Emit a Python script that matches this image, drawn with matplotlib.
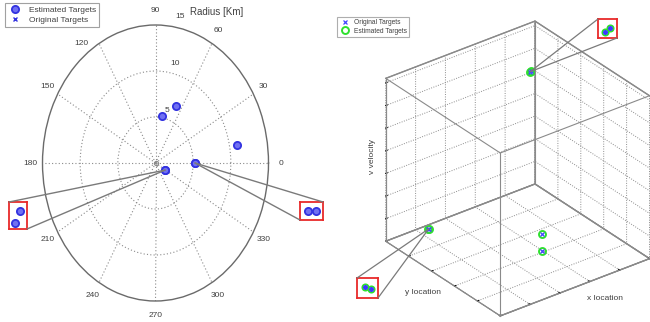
import numpy as np
import matplotlib
matplotlib.use("Agg")
import matplotlib.pyplot as plt
from matplotlib.patches import ConnectionPatch
from mpl_toolkits.mplot3d import proj3d

plt.rcParams['font.family'] = ['Liberation Sans', 'DejaVu Sans']
plt.rcParams['grid.color'] = '#8c8c8c'
plt.rcParams['grid.linestyle'] = (0, (1, 1.5))
plt.rcParams['grid.linewidth'] = 0.7

# ---------------- polar view: range [km] / bearing [deg] ----------------
est_range = [6.8, 5.2, 11.0, 5.22, 5.26, 1.487, 1.497]
est_bearing = [66.0, 80.0, 10.0, 0.0, 0.0, 330.2, 327.7]
orig_range = [6.8, 5.2, 11.0, 5.22, 5.26, 1.487, 1.497]
orig_bearing = [66.0, 80.0, 10.0, 0.0, 0.0, 330.2, 327.7]
radar_range = [0.0]
radar_bearing = [0.0]
angle_ticks = list(range(0, 360, 30))
range_rings = [5, 10, 15]

# ---------------- 3D view: x / y location, v velocity ----------------
est_x = [7.55, 7.60, 1.02, 1.06, 4.36, 4.36]
est_y = [7.25, 7.25, 7.60, 7.60, 2.08, 2.08]
est_v = [6.47, 6.50, 1.09, 1.07, 1.84, 1.08]
orig_x = [7.55, 7.60, 1.02, 1.06, 4.36, 4.36]
orig_y = [7.25, 7.25, 7.60, 7.60, 2.08, 2.08]
orig_v = [6.47, 6.50, 1.09, 1.07, 1.84, 1.08]
x_ticks = [0, 2, 4, 6, 8, 10]
y_ticks = [0, 2, 4, 6, 8, 10]
v_ticks = [0, 1, 2, 3, 4, 5, 6, 7]

W, H = 650, 322
fig = plt.figure(figsize=(W / 100, H / 100), dpi=100)
fig.patch.set_facecolor('white')

BLUE = '#3232e0'
BLUE_FILL = '#7070f2'
GREEN = '#2ee02e'
RED = '#e82a2a'
GRAY = '#7a7a7a'
TXT = '#404040'


def px_box(x0, y0, x1, y1):
    """Rectangle given in pixels (origin top-left) -> figure fraction."""
    return [x0 / W, 1 - y1 / H, (x1 - x0) / W, (y1 - y0) / H]


def style_inset(ax):
    ax.set_xticks([])
    ax.set_yticks([])
    for s in ax.spines.values():
        s.set_color(RED)
        s.set_linewidth(1.3)
    ax.patch.set_facecolor('white')


# ======================= polar plot =======================
axp = fig.add_axes(px_box(42.5, 25, 268.5, 301), projection='polar')
axp.set_aspect('auto')
axp.set_ylim(0, range_rings[-1])
axp.set_xticks(np.deg2rad(angle_ticks))
axp.set_xticklabels([])
axp.set_yticks(range_rings[:-1])
axp.set_yticklabels([])
axp.tick_params(length=0)
axp.grid(True, color='#8a8a8a', linestyle=(0, (1, 2)), linewidth=0.8)
axp.spines['polar'].set_color('#6a6a6a')
axp.spines['polar'].set_linewidth(1.0)

for a in angle_ticks:
    th, rr = (127, 16.3) if a == 120 else (a, 16.6)
    axp.text(np.deg2rad(th), rr, str(a), ha='center', va='center',
             fontsize=6, color=TXT, clip_on=False)
for ring, th, rr in zip(range_rings, [75.1, 76.6, 78.5], [5.96, 11.17, 16.3]):
    axp.text(np.deg2rad(th), rr, str(ring), ha='center', va='center',
             fontsize=6, color=TXT, clip_on=False)

axp.plot(np.deg2rad(radar_bearing), radar_range, 'o', ms=3, mfc='none',
         mec='#8a8a8a', mew=0.8, zorder=3)
h_orig_p, = axp.plot(np.deg2rad(orig_bearing), orig_range, 'x', color=BLUE,
                     ms=3.5, mew=1.0, ls='none', zorder=3)
h_est_p, = axp.plot(np.deg2rad(est_bearing), est_range, 'o', ms=5.2,
                    mfc=BLUE_FILL, mec=BLUE, mew=1.3, ls='none', zorder=4)

fig.text(217 / W, 1 - 12 / H, 'Radius [Km]', ha='center', va='center',
         fontsize=7, color=TXT)

leg1 = fig.legend([h_est_p, h_orig_p], ['Estimated Targets', 'Original Targets'],
                  loc='upper left', bbox_to_anchor=(5 / W, 1 - 3 / H),
                  fontsize=6, frameon=True, fancybox=False, edgecolor='#8a8a8a',
                  borderpad=0.35, handlelength=1.6, handletextpad=0.9,
                  labelspacing=0.25, borderaxespad=0)
leg1.get_frame().set_linewidth(0.8)
for t in leg1.get_texts():
    t.set_color(TXT)

# close-up views of the merged target pairs
polar_insets = [
    ([5, 6], px_box(9, 202, 27, 229), (1.235, 1.325), (-0.83, -0.695), ((0, 1), (1, 0))),
    ([3, 4], px_box(300, 202, 323, 220), (5.18, 5.295), (-0.045, 0.045), ((1, 1), (0, 0))),
]
for idx, rect, xlim, ylim, corners in polar_insets:
    ins = fig.add_axes(rect)
    r = np.array(est_range)[idx]
    b = np.deg2rad(np.array(est_bearing)[idx])
    ro = np.array(orig_range)[idx]
    bo = np.deg2rad(np.array(orig_bearing)[idx])
    ins.plot(ro * np.cos(bo), ro * np.sin(bo), 'x', color=BLUE, ms=3.5, mew=1.0, ls='none')
    ins.plot(r * np.cos(b), r * np.sin(b), 'o', ms=5.2, mfc=BLUE_FILL, mec=BLUE,
             mew=1.3, ls='none')
    ins.set_xlim(*xlim)
    ins.set_ylim(*ylim)
    style_inset(ins)
    anchor = (np.mean(b), np.mean(r))
    for c in corners:
        con = ConnectionPatch(xyA=anchor, coordsA=axp.transData, xyB=c,
                              coordsB=ins.transAxes, color=GRAY, lw=1.0)
        fig.add_artist(con)

# ======================= 3D scatter =======================
ax3 = fig.add_axes(px_box(330, 0, 650, 322), projection='3d', proj_type='ortho')
ax3.patch.set_alpha(0)
ax3.view_init(elev=30, azim=-127.5)
ax3.set_box_aspect((1, 1, 1))

x_lim = (x_ticks[0], x_ticks[-1])
y_lim = (y_ticks[0], y_ticks[-1])
v_lim = (v_ticks[0], v_ticks[-1] + 0.2)

h_est3, = ax3.plot(est_x, est_y, est_v, 'o', ms=5, mfc='none', mec=GREEN,
                   mew=1.4, ls='none')
h_orig3, = ax3.plot(orig_x, orig_y, orig_v, 'x', color='#4444ff', ms=2.8,
                    mew=0.9, ls='none')

# full box outline
for xa, xb, ya, yb, za, zb in [
        (0, 1, 0, 0, 0, 0), (0, 1, 1, 1, 0, 0), (0, 1, 0, 0, 1, 1), (0, 1, 1, 1, 1, 1),
        (0, 0, 0, 1, 0, 0), (1, 1, 0, 1, 0, 0), (0, 0, 0, 1, 1, 1), (1, 1, 0, 1, 1, 1),
        (0, 0, 0, 0, 0, 1), (1, 1, 0, 0, 0, 1), (0, 0, 1, 1, 0, 1), (1, 1, 1, 1, 0, 1)]:
    ax3.plot([x_lim[xa], x_lim[xb]], [y_lim[ya], y_lim[yb]], [v_lim[za], v_lim[zb]],
             color='#8a8a8a', lw=0.8)

ax3.set_xlim(*x_lim)
ax3.set_ylim(*y_lim)
ax3.set_zlim(*v_lim)
ax3.set_xticks(x_ticks)
ax3.set_yticks(y_ticks)
ax3.set_zticks(v_ticks)
ax3.xaxis.set_ticklabels([])
ax3.yaxis.set_ticklabels([])
ax3.zaxis.set_ticklabels([])
ax3.grid(True)
for axis in (ax3.xaxis, ax3.yaxis, ax3.zaxis):
    axis.set_pane_color((1, 1, 1, 1))
    axis.pane.set_edgecolor('#8a8a8a')
    axis.line.set_color('#8a8a8a')
    axis.line.set_linewidth(0.8)
    axis._axinfo['tick']['color'] = '#8a8a8a'
    axis._axinfo['tick']['inward_factor'] = 0.0
    axis._axinfo['tick']['outward_factor'] = 0.12
    axis._axinfo['grid']['color'] = '#8c8c8c'
    axis._axinfo['grid']['linestyle'] = (0, (1, 1.5))
    axis._axinfo['grid']['linewidth'] = 0.7

# place the square 3D axes so that the box lands where wanted
box_corner_px = {(0, 1, 1): (385, 78), (1, 1, 1): (536, 20), (1, 0, 1): (648, 97),
                 (0, 0, 1): (501, 154), (0, 1, 0): (385, 240), (1, 1, 0): (537, 183),
                 (1, 0, 0): (648, 259), (0, 0, 0): (501, 317)}


def to_px(ax, x, y, z):
    xs, ys, _ = proj3d.proj_transform(np.atleast_1d(x), np.atleast_1d(y),
                                      np.atleast_1d(z), ax.get_proj())
    return ax.transData.transform(np.column_stack([xs, ys]))


fig.canvas.draw()
rows, rhs = [], []
for (i, j, k), (tx, ty) in box_corner_px.items():
    cx, cy = to_px(ax3, x_lim[i], y_lim[j], v_lim[k])[0]
    rows.append([cx, 1, 0]); rhs.append(tx)
    rows.append([cy, 0, 1]); rhs.append(H - ty)
(kk, ox, oy), *_ = np.linalg.lstsq(np.array(rows), np.array(rhs), rcond=None)
bb = ax3.get_position()
x0, y0, side = bb.x0 * W, bb.y0 * H, bb.width * W
ax3.set_position([(ox + kk * x0) / W, (oy + kk * y0) / H, kk * side / W, kk * side / H])
fig.canvas.draw()

fig.text(372 / W, 1 - 157 / H, 'v velocity', rotation=90, ha='center', va='center',
         fontsize=6, color=TXT)
fig.text(423 / W, 1 - 292 / H, 'y location', ha='center', va='center',
         fontsize=6, color=TXT)
fig.text(605 / W, 1 - 299 / H, 'x location', ha='center', va='center',
         fontsize=6, color=TXT)

leg2 = fig.legend([h_orig3, h_est3], ['Original Targets', 'Estimated Targets'],
                  loc='upper left', bbox_to_anchor=(337 / W, 1 - 17 / H),
                  fontsize=4.8, frameon=True, fancybox=False, edgecolor='#9a9a9a',
                  borderpad=0.35, handlelength=1.6, handletextpad=0.6,
                  labelspacing=0.2, borderaxespad=0)
leg2.get_frame().set_linewidth(0.8)
for t in leg2.get_texts():
    t.set_color(TXT)

# close-ups of the 3D target pairs (x location vs v velocity)
insets3 = [
    ([0, 1], px_box(598, 19, 617, 38), (7.48, 7.67), (6.425, 6.567), ((0, 1), (1, 0))),
    ([2, 3], px_box(357, 278, 378, 298), (0.967, 1.107), (0.98, 1.18), ((0, 1), (1, 0))),
]
for idx, rect, xlim, ylim, corners in insets3:
    ins = fig.add_axes(rect)
    ins.plot(np.array(est_x)[idx], np.array(est_v)[idx], 'o', ms=4.5, mfc='none',
             mec=GREEN, mew=1.3, ls='none')
    ins.plot(np.array(orig_x)[idx], np.array(orig_v)[idx], 'o', ms=2.6, color='#3a3aff',
             ls='none')
    ins.set_xlim(*xlim)
    ins.set_ylim(*ylim)
    style_inset(ins)
    pxy = to_px(ax3, np.mean(np.array(est_x)[idx]), np.mean(np.array(est_y)[idx]),
                np.mean(np.array(est_v)[idx]))[0]
    for c in corners:
        con = ConnectionPatch(xyA=tuple(pxy), coordsA='figure pixels', xyB=c,
                              coordsB=ins.transAxes, color=GRAY, lw=0.9)
        fig.add_artist(con)

fig.savefig('out.png', dpi=100, facecolor='white')
